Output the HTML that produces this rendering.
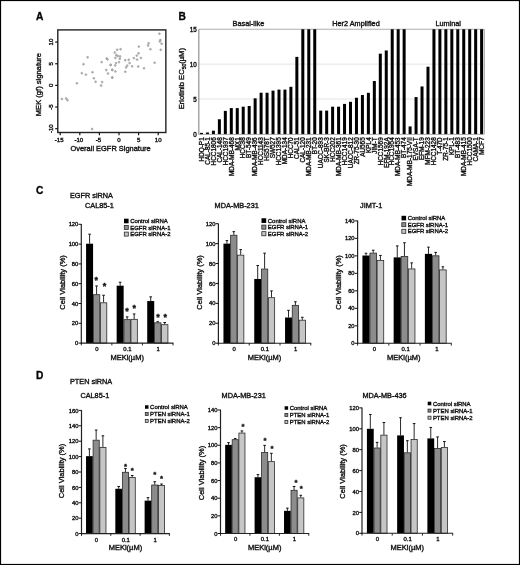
<!DOCTYPE html>
<html lang="en">
<head>
<meta charset="utf-8">
<title>Figure</title>
<style>
html,body{margin:0;padding:0;background:#fff;}
body{width:520px;height:565px;overflow:hidden;font-family:'Liberation Sans', Arial, sans-serif;}
svg{display:block;}
svg text{font-family:"Liberation Sans",Arial,sans-serif;stroke:#111;stroke-width:0.36px;}
</style>
</head>
<body>
<svg width="520" height="565" viewBox="0 0 520 565">
<rect x="0.5" y="0.5" width="519" height="564" fill="#fff" stroke="#000" stroke-width="1.2"/>
<text x="36.00" y="20.00" font-size="10.2" text-anchor="start" font-weight="bold" fill="#000">A</text>
<rect x="57.8" y="29.9" width="108.05" height="102.60" fill="none" stroke="#222" stroke-width="1.4"/>
<line x1="55.20" y1="42.10" x2="57.80" y2="42.10" stroke="#111" stroke-width="1.2"/>
<text x="52.80" y="42.10" font-size="6.1" text-anchor="middle" fill="#111" transform="rotate(-90 52.80 42.10)">10</text>
<line x1="55.20" y1="63.75" x2="57.80" y2="63.75" stroke="#111" stroke-width="1.2"/>
<text x="52.80" y="63.75" font-size="6.1" text-anchor="middle" fill="#111" transform="rotate(-90 52.80 63.75)">5</text>
<line x1="55.20" y1="85.40" x2="57.80" y2="85.40" stroke="#111" stroke-width="1.2"/>
<text x="52.80" y="85.40" font-size="6.1" text-anchor="middle" fill="#111" transform="rotate(-90 52.80 85.40)">0</text>
<line x1="55.20" y1="107.05" x2="57.80" y2="107.05" stroke="#111" stroke-width="1.2"/>
<text x="52.80" y="107.05" font-size="6.1" text-anchor="middle" fill="#111" transform="rotate(-90 52.80 107.05)">-5</text>
<line x1="55.20" y1="128.70" x2="57.80" y2="128.70" stroke="#111" stroke-width="1.2"/>
<text x="52.80" y="128.70" font-size="6.1" text-anchor="middle" fill="#111" transform="rotate(-90 52.80 128.70)">-10</text>
<line x1="60.20" y1="132.50" x2="60.20" y2="135.30" stroke="#111" stroke-width="1.2"/>
<text x="59.20" y="142.20" font-size="6.1" text-anchor="middle" fill="#111">-15</text>
<line x1="79.80" y1="132.50" x2="79.80" y2="135.30" stroke="#111" stroke-width="1.2"/>
<text x="78.80" y="142.20" font-size="6.1" text-anchor="middle" fill="#111">-10</text>
<line x1="99.40" y1="132.50" x2="99.40" y2="135.30" stroke="#111" stroke-width="1.2"/>
<text x="98.40" y="142.20" font-size="6.1" text-anchor="middle" fill="#111">-5</text>
<line x1="119.00" y1="132.50" x2="119.00" y2="135.30" stroke="#111" stroke-width="1.2"/>
<text x="119.00" y="142.20" font-size="6.1" text-anchor="middle" fill="#111">0</text>
<line x1="138.60" y1="132.50" x2="138.60" y2="135.30" stroke="#111" stroke-width="1.2"/>
<text x="138.60" y="142.20" font-size="6.1" text-anchor="middle" fill="#111">5</text>
<line x1="158.20" y1="132.50" x2="158.20" y2="135.30" stroke="#111" stroke-width="1.2"/>
<text x="158.20" y="142.20" font-size="6.1" text-anchor="middle" fill="#111">10</text>
<text x="110.60" y="150.70" font-size="7.45" text-anchor="middle" fill="#111">Overall EGFR Signature</text>
<text x="41.00" y="84.60" font-size="7.58" text-anchor="middle" fill="#111" transform="rotate(-90 41.00 84.60)">MEK (gf) signature</text>
<circle cx="87.6" cy="57.3" r="0.95" fill="#b4b4b4" stroke="#979797" stroke-width="0.55"/>
<circle cx="83.5" cy="64.2" r="0.95" fill="#b4b4b4" stroke="#979797" stroke-width="0.55"/>
<circle cx="81.8" cy="73.2" r="0.95" fill="#b4b4b4" stroke="#979797" stroke-width="0.55"/>
<circle cx="85.9" cy="74.6" r="0.95" fill="#b4b4b4" stroke="#979797" stroke-width="0.55"/>
<circle cx="92.5" cy="72.3" r="0.95" fill="#b4b4b4" stroke="#979797" stroke-width="0.55"/>
<circle cx="93.9" cy="78.3" r="0.95" fill="#b4b4b4" stroke="#979797" stroke-width="0.55"/>
<circle cx="95.6" cy="81.8" r="0.95" fill="#b4b4b4" stroke="#979797" stroke-width="0.55"/>
<circle cx="76.9" cy="83.3" r="0.95" fill="#b4b4b4" stroke="#979797" stroke-width="0.55"/>
<circle cx="102.1" cy="82.1" r="0.95" fill="#b4b4b4" stroke="#979797" stroke-width="0.55"/>
<circle cx="101.7" cy="62.1" r="0.95" fill="#b4b4b4" stroke="#979797" stroke-width="0.55"/>
<circle cx="106.7" cy="58.5" r="0.95" fill="#b4b4b4" stroke="#979797" stroke-width="0.55"/>
<circle cx="107.5" cy="59.4" r="0.95" fill="#b4b4b4" stroke="#979797" stroke-width="0.55"/>
<circle cx="110.7" cy="65" r="0.95" fill="#b4b4b4" stroke="#979797" stroke-width="0.55"/>
<circle cx="106.3" cy="70" r="0.95" fill="#b4b4b4" stroke="#979797" stroke-width="0.55"/>
<circle cx="108" cy="73.5" r="0.95" fill="#b4b4b4" stroke="#979797" stroke-width="0.55"/>
<circle cx="112.3" cy="69.8" r="0.95" fill="#b4b4b4" stroke="#979797" stroke-width="0.55"/>
<circle cx="112.3" cy="77.5" r="0.95" fill="#b4b4b4" stroke="#979797" stroke-width="0.55"/>
<circle cx="159.4" cy="33.7" r="0.95" fill="#b4b4b4" stroke="#979797" stroke-width="0.55"/>
<circle cx="160.4" cy="40" r="0.95" fill="#b4b4b4" stroke="#979797" stroke-width="0.55"/>
<circle cx="159.8" cy="41.4" r="0.95" fill="#b4b4b4" stroke="#979797" stroke-width="0.55"/>
<circle cx="161.6" cy="43.7" r="0.95" fill="#b4b4b4" stroke="#979797" stroke-width="0.55"/>
<circle cx="160.7" cy="49.8" r="0.95" fill="#b4b4b4" stroke="#979797" stroke-width="0.55"/>
<circle cx="148.6" cy="43.2" r="0.95" fill="#b4b4b4" stroke="#979797" stroke-width="0.55"/>
<circle cx="148.1" cy="45.5" r="0.95" fill="#b4b4b4" stroke="#979797" stroke-width="0.55"/>
<circle cx="150.4" cy="49.2" r="0.95" fill="#b4b4b4" stroke="#979797" stroke-width="0.55"/>
<circle cx="138.8" cy="46.6" r="0.95" fill="#b4b4b4" stroke="#979797" stroke-width="0.55"/>
<circle cx="138.6" cy="53.3" r="0.95" fill="#b4b4b4" stroke="#979797" stroke-width="0.55"/>
<circle cx="136.8" cy="55.6" r="0.95" fill="#b4b4b4" stroke="#979797" stroke-width="0.55"/>
<circle cx="133.9" cy="58.1" r="0.95" fill="#b4b4b4" stroke="#979797" stroke-width="0.55"/>
<circle cx="137.1" cy="59.6" r="0.95" fill="#b4b4b4" stroke="#979797" stroke-width="0.55"/>
<circle cx="140.9" cy="57.9" r="0.95" fill="#b4b4b4" stroke="#979797" stroke-width="0.55"/>
<circle cx="154.6" cy="62.7" r="0.95" fill="#b4b4b4" stroke="#979797" stroke-width="0.55"/>
<circle cx="138.3" cy="66.5" r="0.95" fill="#b4b4b4" stroke="#979797" stroke-width="0.55"/>
<circle cx="144" cy="68.3" r="0.95" fill="#b4b4b4" stroke="#979797" stroke-width="0.55"/>
<circle cx="132.1" cy="66.3" r="0.95" fill="#b4b4b4" stroke="#979797" stroke-width="0.55"/>
<circle cx="129.6" cy="63.1" r="0.95" fill="#b4b4b4" stroke="#979797" stroke-width="0.55"/>
<circle cx="128.7" cy="59.8" r="0.95" fill="#b4b4b4" stroke="#979797" stroke-width="0.55"/>
<circle cx="125.2" cy="60.2" r="0.95" fill="#b4b4b4" stroke="#979797" stroke-width="0.55"/>
<circle cx="127.3" cy="65.6" r="0.95" fill="#b4b4b4" stroke="#979797" stroke-width="0.55"/>
<circle cx="126.1" cy="67.4" r="0.95" fill="#b4b4b4" stroke="#979797" stroke-width="0.55"/>
<circle cx="125.3" cy="71.7" r="0.95" fill="#b4b4b4" stroke="#979797" stroke-width="0.55"/>
<circle cx="120.6" cy="49.2" r="0.95" fill="#b4b4b4" stroke="#979797" stroke-width="0.55"/>
<circle cx="117.2" cy="49.8" r="0.95" fill="#b4b4b4" stroke="#979797" stroke-width="0.55"/>
<circle cx="114.8" cy="52.5" r="0.95" fill="#b4b4b4" stroke="#979797" stroke-width="0.55"/>
<circle cx="116.3" cy="55.2" r="0.95" fill="#b4b4b4" stroke="#979797" stroke-width="0.55"/>
<circle cx="117.8" cy="55.9" r="0.95" fill="#b4b4b4" stroke="#979797" stroke-width="0.55"/>
<circle cx="120.1" cy="56.4" r="0.95" fill="#b4b4b4" stroke="#979797" stroke-width="0.55"/>
<circle cx="115.4" cy="57.9" r="0.95" fill="#b4b4b4" stroke="#979797" stroke-width="0.55"/>
<circle cx="119.8" cy="58.7" r="0.95" fill="#b4b4b4" stroke="#979797" stroke-width="0.55"/>
<circle cx="119" cy="62.1" r="0.95" fill="#b4b4b4" stroke="#979797" stroke-width="0.55"/>
<circle cx="116" cy="63.1" r="0.95" fill="#b4b4b4" stroke="#979797" stroke-width="0.55"/>
<circle cx="115.2" cy="65.4" r="0.95" fill="#b4b4b4" stroke="#979797" stroke-width="0.55"/>
<circle cx="110.6" cy="64.8" r="0.95" fill="#b4b4b4" stroke="#979797" stroke-width="0.55"/>
<circle cx="112.3" cy="70" r="0.95" fill="#b4b4b4" stroke="#979797" stroke-width="0.55"/>
<circle cx="115.4" cy="71.4" r="0.95" fill="#b4b4b4" stroke="#979797" stroke-width="0.55"/>
<circle cx="112.3" cy="77.5" r="0.95" fill="#b4b4b4" stroke="#979797" stroke-width="0.55"/>
<circle cx="61.9" cy="99" r="0.95" fill="#b4b4b4" stroke="#979797" stroke-width="0.55"/>
<circle cx="66.2" cy="98.5" r="0.95" fill="#b4b4b4" stroke="#979797" stroke-width="0.55"/>
<circle cx="67.5" cy="100.2" r="0.95" fill="#b4b4b4" stroke="#979797" stroke-width="0.55"/>
<circle cx="92.1" cy="129" r="0.95" fill="#b4b4b4" stroke="#979797" stroke-width="0.55"/>
<circle cx="101.1" cy="85.5" r="0.95" fill="#b4b4b4" stroke="#979797" stroke-width="0.55"/>
<text x="178.60" y="20.00" font-size="10.2" text-anchor="start" font-weight="bold" fill="#000">B</text>
<line x1="199.00" y1="29.25" x2="484.30" y2="29.25" stroke="#9a9a9a" stroke-width="0.8"/>
<line x1="199.00" y1="64.13" x2="484.30" y2="64.13" stroke="#d2d2d2" stroke-width="0.6"/>
<line x1="199.00" y1="99.02" x2="484.30" y2="99.02" stroke="#d2d2d2" stroke-width="0.6"/>
<line x1="484.30" y1="29.25" x2="484.30" y2="133.90" stroke="#8a8a8a" stroke-width="0.8"/>
<line x1="198.85" y1="29.25" x2="198.85" y2="134.60" stroke="#7a7a7a" stroke-width="1.0"/>
<text x="196.80" y="136.50" font-size="6.3" text-anchor="end" fill="#111">0</text>
<text x="196.80" y="101.62" font-size="6.3" text-anchor="end" fill="#111">5</text>
<text x="196.80" y="66.73" font-size="6.3" text-anchor="end" fill="#111">10</text>
<text x="196.80" y="31.85" font-size="6.3" text-anchor="end" fill="#111">15</text>
<rect x="200.00" y="132.85" width="3.00" height="1.35" fill="#000"/>
<text x="203.75" y="137.30" font-size="6.4" text-anchor="end" fill="#111" transform="rotate(-90 203.75 137.30)">HDQ-P1</text>
<rect x="205.96" y="132.50" width="3.00" height="1.70" fill="#000"/>
<text x="209.71" y="137.30" font-size="6.4" text-anchor="end" fill="#111" transform="rotate(-90 209.71 137.30)">CAL-85-1</text>
<rect x="211.92" y="130.69" width="3.00" height="3.51" fill="#000"/>
<text x="215.67" y="137.30" font-size="6.4" text-anchor="end" fill="#111" transform="rotate(-90 215.67 137.30)">HCC1806</text>
<rect x="217.88" y="119.25" width="3.00" height="14.95" fill="#000"/>
<text x="221.63" y="137.30" font-size="6.4" text-anchor="end" fill="#111" transform="rotate(-90 221.63 137.30)">CAL-148</text>
<rect x="223.84" y="110.88" width="3.00" height="23.32" fill="#000"/>
<text x="227.59" y="137.30" font-size="6.4" text-anchor="end" fill="#111" transform="rotate(-90 227.59 137.30)">HCC1937</text>
<rect x="229.80" y="108.09" width="3.00" height="26.11" fill="#000"/>
<text x="233.55" y="137.30" font-size="6.4" text-anchor="end" fill="#111" transform="rotate(-90 233.55 137.30)">MDA-MB-468</text>
<rect x="235.76" y="108.09" width="3.00" height="26.11" fill="#000"/>
<text x="239.51" y="137.30" font-size="6.4" text-anchor="end" fill="#111" transform="rotate(-90 239.51 137.30)">MX1</text>
<rect x="241.72" y="106.69" width="3.00" height="27.51" fill="#000"/>
<text x="245.47" y="137.30" font-size="6.4" text-anchor="end" fill="#111" transform="rotate(-90 245.47 137.30)">HCC38</text>
<rect x="247.68" y="105.99" width="3.00" height="28.21" fill="#000"/>
<text x="251.43" y="137.30" font-size="6.4" text-anchor="end" fill="#111" transform="rotate(-90 251.43 137.30)">BT-549</text>
<rect x="253.64" y="98.32" width="3.00" height="35.88" fill="#000"/>
<text x="257.39" y="137.30" font-size="6.4" text-anchor="end" fill="#111" transform="rotate(-90 257.39 137.30)">MDA-MB-436</text>
<rect x="259.60" y="92.74" width="3.00" height="41.46" fill="#000"/>
<text x="263.35" y="137.30" font-size="6.4" text-anchor="end" fill="#111" transform="rotate(-90 263.35 137.30)">HCC1143</text>
<rect x="265.56" y="92.74" width="3.00" height="41.46" fill="#000"/>
<text x="269.31" y="137.30" font-size="6.4" text-anchor="end" fill="#111" transform="rotate(-90 269.31 137.30)">HS578T</text>
<rect x="271.52" y="90.64" width="3.00" height="43.56" fill="#000"/>
<text x="275.27" y="137.30" font-size="6.4" text-anchor="end" fill="#111" transform="rotate(-90 275.27 137.30)">SW527</text>
<rect x="277.48" y="89.60" width="3.00" height="44.60" fill="#000"/>
<text x="281.23" y="137.30" font-size="6.4" text-anchor="end" fill="#111" transform="rotate(-90 281.23 137.30)">HCC1395</text>
<rect x="283.44" y="89.60" width="3.00" height="44.60" fill="#000"/>
<text x="287.19" y="137.30" font-size="6.4" text-anchor="end" fill="#111" transform="rotate(-90 287.19 137.30)">MDA-134</text>
<rect x="289.40" y="86.81" width="3.00" height="47.39" fill="#000"/>
<text x="293.15" y="137.30" font-size="6.4" text-anchor="end" fill="#111" transform="rotate(-90 293.15 137.30)">HCC70</text>
<rect x="295.36" y="56.88" width="3.00" height="77.32" fill="#000"/>
<text x="299.11" y="137.30" font-size="6.4" text-anchor="end" fill="#111" transform="rotate(-90 299.11 137.30)">CAL-51</text>
<rect x="301.32" y="29.25" width="3.00" height="104.95" fill="#000"/>
<text x="305.07" y="137.30" font-size="6.4" text-anchor="end" fill="#111" transform="rotate(-90 305.07 137.30)">CAL-120</text>
<rect x="307.28" y="29.25" width="3.00" height="104.95" fill="#000"/>
<text x="311.03" y="137.30" font-size="6.4" text-anchor="end" fill="#111" transform="rotate(-90 311.03 137.30)">MDA-MB-231</text>
<rect x="313.24" y="29.25" width="3.00" height="104.95" fill="#000"/>
<text x="316.99" y="137.30" font-size="6.4" text-anchor="end" fill="#111" transform="rotate(-90 316.99 137.30)">BT-20</text>
<rect x="319.20" y="110.60" width="3.00" height="23.60" fill="#000"/>
<text x="322.95" y="137.30" font-size="6.4" text-anchor="end" fill="#111" transform="rotate(-90 322.95 137.30)">UACC-893</text>
<rect x="325.16" y="110.60" width="3.00" height="23.60" fill="#000"/>
<text x="328.91" y="137.30" font-size="6.4" text-anchor="end" fill="#111" transform="rotate(-90 328.91 137.30)">SK-BR-3</text>
<rect x="331.12" y="106.69" width="3.00" height="27.51" fill="#000"/>
<text x="334.87" y="137.30" font-size="6.4" text-anchor="end" fill="#111" transform="rotate(-90 334.87 137.30)">HCC202</text>
<rect x="337.08" y="106.69" width="3.00" height="27.51" fill="#000"/>
<text x="340.83" y="137.30" font-size="6.4" text-anchor="end" fill="#111" transform="rotate(-90 340.83 137.30)">MDA-MB-361</text>
<rect x="343.04" y="103.90" width="3.00" height="30.30" fill="#000"/>
<text x="346.79" y="137.30" font-size="6.4" text-anchor="end" fill="#111" transform="rotate(-90 346.79 137.30)">HCC1419</text>
<rect x="349.00" y="101.81" width="3.00" height="32.39" fill="#000"/>
<text x="352.75" y="137.30" font-size="6.4" text-anchor="end" fill="#111" transform="rotate(-90 352.75 137.30)">UACC-812</text>
<rect x="354.96" y="97.76" width="3.00" height="36.44" fill="#000"/>
<text x="358.71" y="137.30" font-size="6.4" text-anchor="end" fill="#111" transform="rotate(-90 358.71 137.30)">ZR-75-30</text>
<rect x="360.92" y="94.97" width="3.00" height="39.23" fill="#000"/>
<text x="364.67" y="137.30" font-size="6.4" text-anchor="end" fill="#111" transform="rotate(-90 364.67 137.30)">AU565</text>
<rect x="366.88" y="92.81" width="3.00" height="41.39" fill="#000"/>
<text x="370.63" y="137.30" font-size="6.4" text-anchor="end" fill="#111" transform="rotate(-90 370.63 137.30)">KPL4</text>
<rect x="372.84" y="81.02" width="3.00" height="53.18" fill="#000"/>
<text x="376.59" y="137.30" font-size="6.4" text-anchor="end" fill="#111" transform="rotate(-90 376.59 137.30)">JIM-T</text>
<rect x="378.80" y="53.67" width="3.00" height="80.53" fill="#000"/>
<text x="382.55" y="137.30" font-size="6.4" text-anchor="end" fill="#111" transform="rotate(-90 382.55 137.30)">HCC1569</text>
<rect x="384.76" y="50.46" width="3.00" height="83.74" fill="#000"/>
<text x="388.51" y="137.30" font-size="6.4" text-anchor="end" fill="#111" transform="rotate(-90 388.51 137.30)">EFM-192A</text>
<rect x="390.72" y="29.25" width="3.00" height="104.95" fill="#000"/>
<text x="394.47" y="137.30" font-size="6.4" text-anchor="end" fill="#111" transform="rotate(-90 394.47 137.30)">HCC1954</text>
<rect x="396.68" y="29.25" width="3.00" height="104.95" fill="#000"/>
<text x="400.43" y="137.30" font-size="6.4" text-anchor="end" fill="#111" transform="rotate(-90 400.43 137.30)">MDA-MB-453</text>
<rect x="402.64" y="29.25" width="3.00" height="104.95" fill="#000"/>
<text x="406.39" y="137.30" font-size="6.4" text-anchor="end" fill="#111" transform="rotate(-90 406.39 137.30)">BT-474</text>
<rect x="408.60" y="126.43" width="3.00" height="7.77" fill="#000"/>
<text x="412.35" y="137.30" font-size="6.4" text-anchor="end" fill="#111" transform="rotate(-90 412.35 137.30)">MDA-MB-175-VII</text>
<rect x="414.56" y="97.06" width="3.00" height="37.14" fill="#000"/>
<text x="418.31" y="137.30" font-size="6.4" text-anchor="end" fill="#111" transform="rotate(-90 418.31 137.30)">EVSA-T</text>
<rect x="420.52" y="86.46" width="3.00" height="47.74" fill="#000"/>
<text x="424.27" y="137.30" font-size="6.4" text-anchor="end" fill="#111" transform="rotate(-90 424.27 137.30)">EFM-19</text>
<rect x="426.48" y="66.71" width="3.00" height="67.49" fill="#000"/>
<text x="430.23" y="137.30" font-size="6.4" text-anchor="end" fill="#111" transform="rotate(-90 430.23 137.30)">MFM-223</text>
<rect x="432.44" y="29.25" width="3.00" height="104.95" fill="#000"/>
<text x="436.19" y="137.30" font-size="6.4" text-anchor="end" fill="#111" transform="rotate(-90 436.19 137.30)">HCC1428</text>
<rect x="438.40" y="29.25" width="3.00" height="104.95" fill="#000"/>
<text x="442.15" y="137.30" font-size="6.4" text-anchor="end" fill="#111" transform="rotate(-90 442.15 137.30)">T-47D</text>
<rect x="444.36" y="29.25" width="3.00" height="104.95" fill="#000"/>
<text x="448.11" y="137.30" font-size="6.4" text-anchor="end" fill="#111" transform="rotate(-90 448.11 137.30)">ZR-75-1</text>
<rect x="450.32" y="29.25" width="3.00" height="104.95" fill="#000"/>
<text x="454.07" y="137.30" font-size="6.4" text-anchor="end" fill="#111" transform="rotate(-90 454.07 137.30)">KPL-1</text>
<rect x="456.28" y="29.25" width="3.00" height="104.95" fill="#000"/>
<text x="460.03" y="137.30" font-size="6.4" text-anchor="end" fill="#111" transform="rotate(-90 460.03 137.30)">BT-483</text>
<rect x="462.24" y="29.25" width="3.00" height="104.95" fill="#000"/>
<text x="465.99" y="137.30" font-size="6.4" text-anchor="end" fill="#111" transform="rotate(-90 465.99 137.30)">MDA-MB-415</text>
<rect x="468.20" y="29.25" width="3.00" height="104.95" fill="#000"/>
<text x="471.95" y="137.30" font-size="6.4" text-anchor="end" fill="#111" transform="rotate(-90 471.95 137.30)">HCC1500</text>
<rect x="474.16" y="29.25" width="3.00" height="104.95" fill="#000"/>
<text x="477.91" y="137.30" font-size="6.4" text-anchor="end" fill="#111" transform="rotate(-90 477.91 137.30)">CAMA-1</text>
<rect x="480.12" y="29.25" width="3.00" height="104.95" fill="#000"/>
<text x="483.87" y="137.30" font-size="6.4" text-anchor="end" fill="#111" transform="rotate(-90 483.87 137.30)">MCF7</text>
<line x1="199.00" y1="134.40" x2="484.30" y2="134.40" stroke="#8a8a8a" stroke-width="0.7"/>
<text x="248.40" y="26.00" font-size="7.3" text-anchor="middle" fill="#111">Basal-like</text>
<text x="356.00" y="26.00" font-size="7.3" text-anchor="middle" fill="#111">Her2 Amplified</text>
<text x="448.20" y="26.00" font-size="7.3" text-anchor="middle" fill="#111">Luminal</text>
<text x="184.30" y="78.70" font-size="7.58" text-anchor="middle" fill="#111" transform="rotate(-90 184.30 78.70)">Erlotinib EC<tspan font-size="5.0" dy="1.6">50</tspan><tspan dy="-1.6">(µM)</tspan></text>
<text x="36.00" y="193.50" font-size="10.2" text-anchor="start" font-weight="bold" fill="#000">C</text>
<text x="70.00" y="197.50" font-size="7.3" text-anchor="start" fill="#111">EGFR siRNA</text>
<text x="36.00" y="379.00" font-size="10.2" text-anchor="start" font-weight="bold" fill="#000">D</text>
<text x="70.00" y="384.40" font-size="7.3" text-anchor="start" fill="#111">PTEN siRNA</text>
<line x1="89.58" y1="243.70" x2="89.58" y2="234.20" stroke="#111" stroke-width="0.9"/>
<line x1="88.28" y1="234.20" x2="90.88" y2="234.20" stroke="#111" stroke-width="1.0"/>
<rect x="86.08" y="243.70" width="7.00" height="99.40" fill="#000"/>
<line x1="96.58" y1="294.39" x2="96.58" y2="285.98" stroke="#111" stroke-width="0.9"/>
<line x1="95.28" y1="285.98" x2="97.88" y2="285.98" stroke="#111" stroke-width="1.0"/>
<rect x="93.38" y="294.69" width="6.40" height="48.41" fill="#8c8c8c" stroke="#2a2a2a" stroke-width="0.8"/>
<line x1="103.58" y1="302.51" x2="103.58" y2="295.28" stroke="#111" stroke-width="0.9"/>
<line x1="102.28" y1="295.28" x2="104.88" y2="295.28" stroke="#111" stroke-width="1.0"/>
<rect x="100.38" y="302.81" width="6.40" height="40.29" fill="#c6c6c6" stroke="#2a2a2a" stroke-width="0.8"/>
<line x1="120.15" y1="285.68" x2="120.15" y2="282.22" stroke="#111" stroke-width="0.9"/>
<line x1="118.85" y1="282.22" x2="121.45" y2="282.22" stroke="#111" stroke-width="1.0"/>
<rect x="116.65" y="285.68" width="7.00" height="57.42" fill="#000"/>
<line x1="127.15" y1="319.34" x2="127.15" y2="316.87" stroke="#111" stroke-width="0.9"/>
<line x1="125.85" y1="316.87" x2="128.45" y2="316.87" stroke="#111" stroke-width="1.0"/>
<rect x="123.95" y="319.64" width="6.40" height="23.46" fill="#8c8c8c" stroke="#2a2a2a" stroke-width="0.8"/>
<line x1="134.15" y1="319.04" x2="134.15" y2="313.99" stroke="#111" stroke-width="0.9"/>
<line x1="132.85" y1="313.99" x2="135.45" y2="313.99" stroke="#111" stroke-width="1.0"/>
<rect x="130.95" y="319.34" width="6.40" height="23.76" fill="#c6c6c6" stroke="#2a2a2a" stroke-width="0.8"/>
<line x1="150.72" y1="301.03" x2="150.72" y2="296.87" stroke="#111" stroke-width="0.9"/>
<line x1="149.42" y1="296.87" x2="152.02" y2="296.87" stroke="#111" stroke-width="1.0"/>
<rect x="147.22" y="301.03" width="7.00" height="42.07" fill="#000"/>
<line x1="157.72" y1="322.51" x2="157.72" y2="321.72" stroke="#111" stroke-width="0.9"/>
<line x1="156.42" y1="321.72" x2="159.02" y2="321.72" stroke="#111" stroke-width="1.0"/>
<rect x="154.52" y="322.81" width="6.40" height="20.29" fill="#8c8c8c" stroke="#2a2a2a" stroke-width="0.8"/>
<line x1="164.72" y1="324.39" x2="164.72" y2="322.51" stroke="#111" stroke-width="0.9"/>
<line x1="163.42" y1="322.51" x2="166.02" y2="322.51" stroke="#111" stroke-width="1.0"/>
<rect x="161.52" y="324.69" width="6.40" height="18.41" fill="#c6c6c6" stroke="#2a2a2a" stroke-width="0.8"/>
<line x1="81.30" y1="224.00" x2="81.30" y2="343.60" stroke="#222" stroke-width="1.2"/>
<line x1="80.80" y1="343.10" x2="173.40" y2="343.10" stroke="#222" stroke-width="1.1"/>
<line x1="78.50" y1="343.10" x2="81.30" y2="343.10" stroke="#111" stroke-width="1.0"/>
<text x="78.30" y="345.20" font-size="5.8" text-anchor="end" fill="#111">0</text>
<line x1="78.50" y1="323.30" x2="81.30" y2="323.30" stroke="#111" stroke-width="1.0"/>
<text x="78.30" y="325.40" font-size="5.8" text-anchor="end" fill="#111">20</text>
<line x1="78.50" y1="303.50" x2="81.30" y2="303.50" stroke="#111" stroke-width="1.0"/>
<text x="78.30" y="305.60" font-size="5.8" text-anchor="end" fill="#111">40</text>
<line x1="78.50" y1="283.70" x2="81.30" y2="283.70" stroke="#111" stroke-width="1.0"/>
<text x="78.30" y="285.80" font-size="5.8" text-anchor="end" fill="#111">60</text>
<line x1="78.50" y1="263.90" x2="81.30" y2="263.90" stroke="#111" stroke-width="1.0"/>
<text x="78.30" y="266.00" font-size="5.8" text-anchor="end" fill="#111">80</text>
<line x1="78.50" y1="244.10" x2="81.30" y2="244.10" stroke="#111" stroke-width="1.0"/>
<text x="78.30" y="246.20" font-size="5.8" text-anchor="end" fill="#111">100</text>
<line x1="78.50" y1="224.30" x2="81.30" y2="224.30" stroke="#111" stroke-width="1.0"/>
<text x="78.30" y="226.40" font-size="5.8" text-anchor="end" fill="#111">120</text>
<line x1="81.30" y1="343.10" x2="81.30" y2="345.40" stroke="#111" stroke-width="0.9"/>
<line x1="111.87" y1="343.10" x2="111.87" y2="345.40" stroke="#111" stroke-width="0.9"/>
<line x1="142.43" y1="343.10" x2="142.43" y2="345.40" stroke="#111" stroke-width="0.9"/>
<line x1="173.00" y1="343.10" x2="173.00" y2="345.40" stroke="#111" stroke-width="0.9"/>
<text x="96.88" y="351.00" font-size="5.9" text-anchor="middle" fill="#111">0</text>
<text x="127.45" y="351.00" font-size="5.9" text-anchor="middle" fill="#111">0.1</text>
<text x="158.02" y="351.00" font-size="5.9" text-anchor="middle" fill="#111">1</text>
<text x="127.15" y="359.80" font-size="7.5" text-anchor="middle" fill="#111">MEKi(µM)</text>
<text x="65.50" y="282.40" font-size="7.5" text-anchor="middle" fill="#111" transform="rotate(-90 65.50 282.40)">Cell Viability (%)</text>
<text x="85.00" y="207.60" font-size="7.3" text-anchor="start" fill="#111">CAL85-1</text>
<rect x="124.00" y="218.70" width="4.60" height="4.60" fill="#000"/>
<text x="130.20" y="223.10" font-size="5.95" text-anchor="start" fill="#111">Control siRNA</text>
<rect x="124.30" y="225.55" width="4.00" height="4.00" fill="#8c8c8c" stroke="#2a2a2a" stroke-width="0.8"/>
<text x="130.20" y="229.65" font-size="5.95" text-anchor="start" fill="#111">EGFR siRNA-1</text>
<rect x="124.30" y="232.10" width="4.00" height="4.00" fill="#c6c6c6" stroke="#2a2a2a" stroke-width="0.8"/>
<text x="130.20" y="236.20" font-size="5.95" text-anchor="start" fill="#111">EGFR siRNA-2</text>
<text x="96.30" y="283.41" font-size="9.0" text-anchor="middle" font-weight="bold" fill="#111">*</text>
<text x="104.40" y="289.41" font-size="9.0" text-anchor="middle" font-weight="bold" fill="#111">*</text>
<text x="126.90" y="314.01" font-size="9.0" text-anchor="middle" font-weight="bold" fill="#111">*</text>
<text x="134.20" y="310.91" font-size="9.0" text-anchor="middle" font-weight="bold" fill="#111">*</text>
<text x="158.10" y="320.31" font-size="9.0" text-anchor="middle" font-weight="bold" fill="#111">*</text>
<text x="165.20" y="320.31" font-size="9.0" text-anchor="middle" font-weight="bold" fill="#111">*</text>
<line x1="226.90" y1="243.62" x2="226.90" y2="240.63" stroke="#111" stroke-width="0.9"/>
<line x1="225.60" y1="240.63" x2="228.20" y2="240.63" stroke="#111" stroke-width="1.0"/>
<rect x="223.45" y="243.62" width="6.90" height="99.58" fill="#000"/>
<line x1="233.80" y1="234.95" x2="233.80" y2="231.67" stroke="#111" stroke-width="0.9"/>
<line x1="232.50" y1="231.67" x2="235.10" y2="231.67" stroke="#111" stroke-width="1.0"/>
<rect x="230.65" y="235.25" width="6.30" height="107.95" fill="#8c8c8c" stroke="#2a2a2a" stroke-width="0.8"/>
<line x1="240.70" y1="254.87" x2="240.70" y2="249.59" stroke="#111" stroke-width="0.9"/>
<line x1="239.40" y1="249.59" x2="242.00" y2="249.59" stroke="#111" stroke-width="1.0"/>
<rect x="237.55" y="255.17" width="6.30" height="88.03" fill="#c6c6c6" stroke="#2a2a2a" stroke-width="0.8"/>
<line x1="257.70" y1="278.97" x2="257.70" y2="265.52" stroke="#111" stroke-width="0.9"/>
<line x1="256.40" y1="265.52" x2="259.00" y2="265.52" stroke="#111" stroke-width="1.0"/>
<rect x="254.25" y="278.97" width="6.90" height="64.23" fill="#000"/>
<line x1="264.60" y1="268.76" x2="264.60" y2="253.18" stroke="#111" stroke-width="0.9"/>
<line x1="263.30" y1="253.18" x2="265.90" y2="253.18" stroke="#111" stroke-width="1.0"/>
<rect x="261.45" y="269.06" width="6.30" height="74.14" fill="#8c8c8c" stroke="#2a2a2a" stroke-width="0.8"/>
<line x1="271.50" y1="297.39" x2="271.50" y2="290.92" stroke="#111" stroke-width="0.9"/>
<line x1="270.20" y1="290.92" x2="272.80" y2="290.92" stroke="#111" stroke-width="1.0"/>
<rect x="268.35" y="297.69" width="6.30" height="45.51" fill="#c6c6c6" stroke="#2a2a2a" stroke-width="0.8"/>
<line x1="288.50" y1="317.51" x2="288.50" y2="310.34" stroke="#111" stroke-width="0.9"/>
<line x1="287.20" y1="310.34" x2="289.80" y2="310.34" stroke="#111" stroke-width="1.0"/>
<rect x="285.05" y="317.51" width="6.90" height="25.69" fill="#000"/>
<line x1="295.40" y1="305.06" x2="295.40" y2="301.77" stroke="#111" stroke-width="0.9"/>
<line x1="294.10" y1="301.77" x2="296.70" y2="301.77" stroke="#111" stroke-width="1.0"/>
<rect x="292.25" y="305.36" width="6.30" height="37.84" fill="#8c8c8c" stroke="#2a2a2a" stroke-width="0.8"/>
<line x1="302.30" y1="319.90" x2="302.30" y2="317.31" stroke="#111" stroke-width="0.9"/>
<line x1="301.00" y1="317.31" x2="303.60" y2="317.31" stroke="#111" stroke-width="1.0"/>
<rect x="299.15" y="320.20" width="6.30" height="23.00" fill="#c6c6c6" stroke="#2a2a2a" stroke-width="0.8"/>
<line x1="218.40" y1="223.40" x2="218.40" y2="343.70" stroke="#222" stroke-width="1.2"/>
<line x1="217.90" y1="343.20" x2="311.20" y2="343.20" stroke="#222" stroke-width="1.1"/>
<line x1="215.60" y1="343.20" x2="218.40" y2="343.20" stroke="#111" stroke-width="1.0"/>
<text x="215.40" y="345.30" font-size="5.8" text-anchor="end" fill="#111">0</text>
<line x1="215.60" y1="323.28" x2="218.40" y2="323.28" stroke="#111" stroke-width="1.0"/>
<text x="215.40" y="325.38" font-size="5.8" text-anchor="end" fill="#111">20</text>
<line x1="215.60" y1="303.37" x2="218.40" y2="303.37" stroke="#111" stroke-width="1.0"/>
<text x="215.40" y="305.47" font-size="5.8" text-anchor="end" fill="#111">40</text>
<line x1="215.60" y1="283.45" x2="218.40" y2="283.45" stroke="#111" stroke-width="1.0"/>
<text x="215.40" y="285.55" font-size="5.8" text-anchor="end" fill="#111">60</text>
<line x1="215.60" y1="263.53" x2="218.40" y2="263.53" stroke="#111" stroke-width="1.0"/>
<text x="215.40" y="265.63" font-size="5.8" text-anchor="end" fill="#111">80</text>
<line x1="215.60" y1="243.62" x2="218.40" y2="243.62" stroke="#111" stroke-width="1.0"/>
<text x="215.40" y="245.72" font-size="5.8" text-anchor="end" fill="#111">100</text>
<line x1="215.60" y1="223.70" x2="218.40" y2="223.70" stroke="#111" stroke-width="1.0"/>
<text x="215.40" y="225.80" font-size="5.8" text-anchor="end" fill="#111">120</text>
<line x1="218.40" y1="343.20" x2="218.40" y2="345.50" stroke="#111" stroke-width="0.9"/>
<line x1="249.20" y1="343.20" x2="249.20" y2="345.50" stroke="#111" stroke-width="0.9"/>
<line x1="280.00" y1="343.20" x2="280.00" y2="345.50" stroke="#111" stroke-width="0.9"/>
<line x1="310.80" y1="343.20" x2="310.80" y2="345.50" stroke="#111" stroke-width="0.9"/>
<text x="234.10" y="351.10" font-size="5.9" text-anchor="middle" fill="#111">0</text>
<text x="264.90" y="351.10" font-size="5.9" text-anchor="middle" fill="#111">0.1</text>
<text x="295.70" y="351.10" font-size="5.9" text-anchor="middle" fill="#111">1</text>
<text x="264.60" y="359.90" font-size="7.5" text-anchor="middle" fill="#111">MEKi(µM)</text>
<text x="202.40" y="282.40" font-size="7.5" text-anchor="middle" fill="#111" transform="rotate(-90 202.40 282.40)">Cell Viability (%)</text>
<text x="214.60" y="207.75" font-size="7.3" text-anchor="start" fill="#111">MDA-MB-231</text>
<rect x="261.50" y="218.25" width="4.70" height="4.70" fill="#000"/>
<text x="267.80" y="222.70" font-size="5.95" text-anchor="start" fill="#111">Control siRNA</text>
<rect x="261.80" y="225.10" width="4.10" height="4.10" fill="#8c8c8c" stroke="#2a2a2a" stroke-width="0.8"/>
<text x="267.80" y="229.25" font-size="5.95" text-anchor="start" fill="#111">EGFR siRNA-1</text>
<rect x="261.80" y="231.65" width="4.10" height="4.10" fill="#c6c6c6" stroke="#2a2a2a" stroke-width="0.8"/>
<text x="267.80" y="235.80" font-size="5.95" text-anchor="start" fill="#111">EGFR siRNA-2</text>
<line x1="366.02" y1="255.52" x2="366.02" y2="253.25" stroke="#111" stroke-width="0.9"/>
<line x1="364.72" y1="253.25" x2="367.32" y2="253.25" stroke="#111" stroke-width="1.0"/>
<rect x="362.42" y="255.52" width="7.20" height="87.78" fill="#000"/>
<line x1="373.22" y1="252.81" x2="373.22" y2="250.19" stroke="#111" stroke-width="0.9"/>
<line x1="371.92" y1="250.19" x2="374.52" y2="250.19" stroke="#111" stroke-width="1.0"/>
<rect x="369.92" y="253.11" width="6.60" height="90.19" fill="#8c8c8c" stroke="#2a2a2a" stroke-width="0.8"/>
<line x1="380.42" y1="260.24" x2="380.42" y2="255.43" stroke="#111" stroke-width="0.9"/>
<line x1="379.12" y1="255.43" x2="381.72" y2="255.43" stroke="#111" stroke-width="1.0"/>
<rect x="377.12" y="260.54" width="6.60" height="82.76" fill="#c6c6c6" stroke="#2a2a2a" stroke-width="0.8"/>
<line x1="397.25" y1="257.36" x2="397.25" y2="245.90" stroke="#111" stroke-width="0.9"/>
<line x1="395.95" y1="245.90" x2="398.55" y2="245.90" stroke="#111" stroke-width="1.0"/>
<rect x="393.65" y="257.36" width="7.20" height="85.94" fill="#000"/>
<line x1="404.45" y1="256.13" x2="404.45" y2="242.76" stroke="#111" stroke-width="0.9"/>
<line x1="403.15" y1="242.76" x2="405.75" y2="242.76" stroke="#111" stroke-width="1.0"/>
<rect x="401.15" y="256.43" width="6.60" height="86.87" fill="#8c8c8c" stroke="#2a2a2a" stroke-width="0.8"/>
<line x1="411.65" y1="268.64" x2="411.65" y2="262.87" stroke="#111" stroke-width="0.9"/>
<line x1="410.35" y1="262.87" x2="412.95" y2="262.87" stroke="#111" stroke-width="1.0"/>
<rect x="408.35" y="268.94" width="6.60" height="74.36" fill="#c6c6c6" stroke="#2a2a2a" stroke-width="0.8"/>
<line x1="428.48" y1="253.86" x2="428.48" y2="247.13" stroke="#111" stroke-width="0.9"/>
<line x1="427.18" y1="247.13" x2="429.78" y2="247.13" stroke="#111" stroke-width="1.0"/>
<rect x="424.88" y="253.86" width="7.20" height="89.44" fill="#000"/>
<line x1="435.68" y1="255.52" x2="435.68" y2="252.37" stroke="#111" stroke-width="0.9"/>
<line x1="434.38" y1="252.37" x2="436.98" y2="252.37" stroke="#111" stroke-width="1.0"/>
<rect x="432.38" y="255.82" width="6.60" height="87.48" fill="#8c8c8c" stroke="#2a2a2a" stroke-width="0.8"/>
<line x1="442.88" y1="269.60" x2="442.88" y2="266.80" stroke="#111" stroke-width="0.9"/>
<line x1="441.58" y1="266.80" x2="444.18" y2="266.80" stroke="#111" stroke-width="1.0"/>
<rect x="439.58" y="269.90" width="6.60" height="73.40" fill="#c6c6c6" stroke="#2a2a2a" stroke-width="0.8"/>
<line x1="357.60" y1="220.60" x2="357.60" y2="343.80" stroke="#222" stroke-width="1.2"/>
<line x1="357.10" y1="343.30" x2="451.70" y2="343.30" stroke="#222" stroke-width="1.1"/>
<line x1="354.80" y1="343.30" x2="357.60" y2="343.30" stroke="#111" stroke-width="1.0"/>
<text x="354.60" y="345.40" font-size="5.8" text-anchor="end" fill="#111">0</text>
<line x1="354.80" y1="325.81" x2="357.60" y2="325.81" stroke="#111" stroke-width="1.0"/>
<text x="354.60" y="327.91" font-size="5.8" text-anchor="end" fill="#111">20</text>
<line x1="354.80" y1="308.33" x2="357.60" y2="308.33" stroke="#111" stroke-width="1.0"/>
<text x="354.60" y="310.43" font-size="5.8" text-anchor="end" fill="#111">40</text>
<line x1="354.80" y1="290.84" x2="357.60" y2="290.84" stroke="#111" stroke-width="1.0"/>
<text x="354.60" y="292.94" font-size="5.8" text-anchor="end" fill="#111">60</text>
<line x1="354.80" y1="273.36" x2="357.60" y2="273.36" stroke="#111" stroke-width="1.0"/>
<text x="354.60" y="275.46" font-size="5.8" text-anchor="end" fill="#111">80</text>
<line x1="354.80" y1="255.87" x2="357.60" y2="255.87" stroke="#111" stroke-width="1.0"/>
<text x="354.60" y="257.97" font-size="5.8" text-anchor="end" fill="#111">100</text>
<line x1="354.80" y1="238.39" x2="357.60" y2="238.39" stroke="#111" stroke-width="1.0"/>
<text x="354.60" y="240.49" font-size="5.8" text-anchor="end" fill="#111">120</text>
<line x1="354.80" y1="220.90" x2="357.60" y2="220.90" stroke="#111" stroke-width="1.0"/>
<text x="354.60" y="223.00" font-size="5.8" text-anchor="end" fill="#111">140</text>
<line x1="357.60" y1="343.30" x2="357.60" y2="345.60" stroke="#111" stroke-width="0.9"/>
<line x1="388.83" y1="343.30" x2="388.83" y2="345.60" stroke="#111" stroke-width="0.9"/>
<line x1="420.07" y1="343.30" x2="420.07" y2="345.60" stroke="#111" stroke-width="0.9"/>
<line x1="451.30" y1="343.30" x2="451.30" y2="345.60" stroke="#111" stroke-width="0.9"/>
<text x="374.42" y="351.20" font-size="5.9" text-anchor="middle" fill="#111">0</text>
<text x="405.65" y="351.20" font-size="5.9" text-anchor="middle" fill="#111">0.1</text>
<text x="436.88" y="351.20" font-size="5.9" text-anchor="middle" fill="#111">1</text>
<text x="403.75" y="360.00" font-size="7.5" text-anchor="middle" fill="#111">MEKi(µM)</text>
<text x="341.20" y="282.40" font-size="7.5" text-anchor="middle" fill="#111" transform="rotate(-90 341.20 282.40)">Cell Viability (%)</text>
<text x="360.00" y="207.75" font-size="7.3" text-anchor="start" fill="#111">JIMT-1</text>
<rect x="401.50" y="215.80" width="4.60" height="4.60" fill="#000"/>
<text x="407.70" y="220.20" font-size="5.95" text-anchor="start" fill="#111">Control siRNA</text>
<rect x="401.80" y="222.70" width="4.00" height="4.00" fill="#8c8c8c" stroke="#2a2a2a" stroke-width="0.8"/>
<text x="407.70" y="226.80" font-size="5.95" text-anchor="start" fill="#111">EGFR siRNA-1</text>
<rect x="401.80" y="229.30" width="4.00" height="4.00" fill="#c6c6c6" stroke="#2a2a2a" stroke-width="0.8"/>
<text x="407.70" y="233.40" font-size="5.95" text-anchor="start" fill="#111">EGFR siRNA-2</text>
<line x1="89.40" y1="456.14" x2="89.40" y2="448.90" stroke="#111" stroke-width="0.9"/>
<line x1="88.10" y1="448.90" x2="90.70" y2="448.90" stroke="#111" stroke-width="1.0"/>
<rect x="86.03" y="456.14" width="6.75" height="77.46" fill="#000"/>
<line x1="96.15" y1="439.89" x2="96.15" y2="430.03" stroke="#111" stroke-width="0.9"/>
<line x1="94.85" y1="430.03" x2="97.45" y2="430.03" stroke="#111" stroke-width="1.0"/>
<rect x="93.08" y="440.19" width="6.15" height="93.41" fill="#8c8c8c" stroke="#2a2a2a" stroke-width="0.8"/>
<line x1="102.90" y1="447.13" x2="102.90" y2="435.81" stroke="#111" stroke-width="0.9"/>
<line x1="101.60" y1="435.81" x2="104.20" y2="435.81" stroke="#111" stroke-width="1.0"/>
<rect x="99.83" y="447.43" width="6.15" height="86.17" fill="#c6c6c6" stroke="#2a2a2a" stroke-width="0.8"/>
<line x1="118.70" y1="488.79" x2="118.70" y2="486.48" stroke="#111" stroke-width="0.9"/>
<line x1="117.40" y1="486.48" x2="120.00" y2="486.48" stroke="#111" stroke-width="1.0"/>
<rect x="115.33" y="488.79" width="6.75" height="44.81" fill="#000"/>
<line x1="125.45" y1="472.00" x2="125.45" y2="468.46" stroke="#111" stroke-width="0.9"/>
<line x1="124.15" y1="468.46" x2="126.75" y2="468.46" stroke="#111" stroke-width="1.0"/>
<rect x="122.38" y="472.30" width="6.15" height="61.30" fill="#8c8c8c" stroke="#2a2a2a" stroke-width="0.8"/>
<line x1="132.20" y1="477.24" x2="132.20" y2="475.47" stroke="#111" stroke-width="0.9"/>
<line x1="130.90" y1="475.47" x2="133.50" y2="475.47" stroke="#111" stroke-width="1.0"/>
<rect x="129.12" y="477.54" width="6.15" height="56.06" fill="#c6c6c6" stroke="#2a2a2a" stroke-width="0.8"/>
<line x1="148.00" y1="500.64" x2="148.00" y2="497.64" stroke="#111" stroke-width="0.9"/>
<line x1="146.70" y1="497.64" x2="149.30" y2="497.64" stroke="#111" stroke-width="1.0"/>
<rect x="144.62" y="500.64" width="6.75" height="32.96" fill="#000"/>
<line x1="154.75" y1="484.70" x2="154.75" y2="481.70" stroke="#111" stroke-width="0.9"/>
<line x1="153.45" y1="481.70" x2="156.05" y2="481.70" stroke="#111" stroke-width="1.0"/>
<rect x="151.68" y="485.00" width="6.15" height="48.60" fill="#8c8c8c" stroke="#2a2a2a" stroke-width="0.8"/>
<line x1="161.50" y1="485.24" x2="161.50" y2="484.01" stroke="#111" stroke-width="0.9"/>
<line x1="160.20" y1="484.01" x2="162.80" y2="484.01" stroke="#111" stroke-width="1.0"/>
<rect x="158.43" y="485.54" width="6.15" height="48.06" fill="#c6c6c6" stroke="#2a2a2a" stroke-width="0.8"/>
<line x1="81.50" y1="410.10" x2="81.50" y2="534.10" stroke="#222" stroke-width="1.2"/>
<line x1="81.00" y1="533.60" x2="169.80" y2="533.60" stroke="#222" stroke-width="1.1"/>
<line x1="78.70" y1="533.60" x2="81.50" y2="533.60" stroke="#111" stroke-width="1.0"/>
<text x="78.50" y="535.70" font-size="5.8" text-anchor="end" fill="#111">0</text>
<line x1="78.70" y1="518.20" x2="81.50" y2="518.20" stroke="#111" stroke-width="1.0"/>
<text x="78.50" y="520.30" font-size="5.8" text-anchor="end" fill="#111">20</text>
<line x1="78.70" y1="502.80" x2="81.50" y2="502.80" stroke="#111" stroke-width="1.0"/>
<text x="78.50" y="504.90" font-size="5.8" text-anchor="end" fill="#111">40</text>
<line x1="78.70" y1="487.40" x2="81.50" y2="487.40" stroke="#111" stroke-width="1.0"/>
<text x="78.50" y="489.50" font-size="5.8" text-anchor="end" fill="#111">60</text>
<line x1="78.70" y1="472.00" x2="81.50" y2="472.00" stroke="#111" stroke-width="1.0"/>
<text x="78.50" y="474.10" font-size="5.8" text-anchor="end" fill="#111">80</text>
<line x1="78.70" y1="456.60" x2="81.50" y2="456.60" stroke="#111" stroke-width="1.0"/>
<text x="78.50" y="458.70" font-size="5.8" text-anchor="end" fill="#111">100</text>
<line x1="78.70" y1="441.20" x2="81.50" y2="441.20" stroke="#111" stroke-width="1.0"/>
<text x="78.50" y="443.30" font-size="5.8" text-anchor="end" fill="#111">120</text>
<line x1="78.70" y1="425.80" x2="81.50" y2="425.80" stroke="#111" stroke-width="1.0"/>
<text x="78.50" y="427.90" font-size="5.8" text-anchor="end" fill="#111">140</text>
<line x1="78.70" y1="410.40" x2="81.50" y2="410.40" stroke="#111" stroke-width="1.0"/>
<text x="78.50" y="412.50" font-size="5.8" text-anchor="end" fill="#111">160</text>
<line x1="81.50" y1="533.60" x2="81.50" y2="535.90" stroke="#111" stroke-width="0.9"/>
<line x1="110.80" y1="533.60" x2="110.80" y2="535.90" stroke="#111" stroke-width="0.9"/>
<line x1="140.10" y1="533.60" x2="140.10" y2="535.90" stroke="#111" stroke-width="0.9"/>
<line x1="169.40" y1="533.60" x2="169.40" y2="535.90" stroke="#111" stroke-width="0.9"/>
<text x="96.45" y="541.50" font-size="5.9" text-anchor="middle" fill="#111">0</text>
<text x="125.75" y="541.50" font-size="5.9" text-anchor="middle" fill="#111">0.1</text>
<text x="155.05" y="541.50" font-size="5.9" text-anchor="middle" fill="#111">1</text>
<text x="125.45" y="550.30" font-size="7.5" text-anchor="middle" fill="#111">MEKi(µM)</text>
<text x="64.00" y="471.00" font-size="7.5" text-anchor="middle" fill="#111" transform="rotate(-90 64.00 471.00)">Cell Viability (%)</text>
<text x="80.40" y="398.20" font-size="7.3" text-anchor="start" fill="#111">CAL85-1</text>
<rect x="145.00" y="405.25" width="3.50" height="3.50" fill="#000"/>
<text x="150.10" y="409.10" font-size="5.95" text-anchor="start" fill="#111">Control siRNA</text>
<rect x="145.30" y="412.50" width="2.90" height="2.90" fill="#8c8c8c" stroke="#2a2a2a" stroke-width="0.8"/>
<text x="150.10" y="416.05" font-size="5.95" text-anchor="start" fill="#111">PTEN siRNA-1</text>
<rect x="145.30" y="419.45" width="2.90" height="2.90" fill="#c6c6c6" stroke="#2a2a2a" stroke-width="0.8"/>
<text x="150.10" y="423.00" font-size="5.95" text-anchor="start" fill="#111">PTEN siRNA-2</text>
<text x="125.40" y="468.66" font-size="7.8" text-anchor="middle" font-weight="bold" fill="#111">*</text>
<text x="132.30" y="472.66" font-size="7.8" text-anchor="middle" font-weight="bold" fill="#111">*</text>
<text x="154.80" y="476.96" font-size="7.8" text-anchor="middle" font-weight="bold" fill="#111">*</text>
<text x="161.60" y="480.66" font-size="7.8" text-anchor="middle" font-weight="bold" fill="#111">*</text>
<line x1="228.52" y1="444.84" x2="228.52" y2="442.64" stroke="#111" stroke-width="0.9"/>
<line x1="227.22" y1="442.64" x2="229.82" y2="442.64" stroke="#111" stroke-width="1.0"/>
<rect x="225.17" y="444.84" width="6.70" height="88.66" fill="#000"/>
<line x1="235.22" y1="439.38" x2="235.22" y2="438.58" stroke="#111" stroke-width="0.9"/>
<line x1="233.92" y1="438.58" x2="236.52" y2="438.58" stroke="#111" stroke-width="1.0"/>
<rect x="232.17" y="439.68" width="6.10" height="93.82" fill="#8c8c8c" stroke="#2a2a2a" stroke-width="0.8"/>
<line x1="241.92" y1="432.76" x2="241.92" y2="430.91" stroke="#111" stroke-width="0.9"/>
<line x1="240.62" y1="430.91" x2="243.22" y2="430.91" stroke="#111" stroke-width="1.0"/>
<rect x="238.87" y="433.06" width="6.10" height="100.44" fill="#c6c6c6" stroke="#2a2a2a" stroke-width="0.8"/>
<line x1="257.95" y1="477.22" x2="257.95" y2="474.57" stroke="#111" stroke-width="0.9"/>
<line x1="256.65" y1="474.57" x2="259.25" y2="474.57" stroke="#111" stroke-width="1.0"/>
<rect x="254.60" y="477.22" width="6.70" height="56.28" fill="#000"/>
<line x1="264.65" y1="452.08" x2="264.65" y2="445.37" stroke="#111" stroke-width="0.9"/>
<line x1="263.35" y1="445.37" x2="265.95" y2="445.37" stroke="#111" stroke-width="1.0"/>
<rect x="261.60" y="452.38" width="6.10" height="81.12" fill="#8c8c8c" stroke="#2a2a2a" stroke-width="0.8"/>
<line x1="271.35" y1="461.34" x2="271.35" y2="453.31" stroke="#111" stroke-width="0.9"/>
<line x1="270.05" y1="453.31" x2="272.65" y2="453.31" stroke="#111" stroke-width="1.0"/>
<rect x="268.30" y="461.64" width="6.10" height="71.86" fill="#c6c6c6" stroke="#2a2a2a" stroke-width="0.8"/>
<line x1="287.38" y1="510.83" x2="287.38" y2="508.18" stroke="#111" stroke-width="0.9"/>
<line x1="286.08" y1="508.18" x2="288.68" y2="508.18" stroke="#111" stroke-width="1.0"/>
<rect x="284.03" y="510.83" width="6.70" height="22.67" fill="#000"/>
<line x1="294.08" y1="490.01" x2="294.08" y2="486.48" stroke="#111" stroke-width="0.9"/>
<line x1="292.78" y1="486.48" x2="295.38" y2="486.48" stroke="#111" stroke-width="1.0"/>
<rect x="291.03" y="490.31" width="6.10" height="43.19" fill="#8c8c8c" stroke="#2a2a2a" stroke-width="0.8"/>
<line x1="300.78" y1="497.60" x2="300.78" y2="495.30" stroke="#111" stroke-width="0.9"/>
<line x1="299.48" y1="495.30" x2="302.08" y2="495.30" stroke="#111" stroke-width="1.0"/>
<rect x="297.73" y="497.90" width="6.10" height="35.60" fill="#c6c6c6" stroke="#2a2a2a" stroke-width="0.8"/>
<line x1="220.50" y1="409.70" x2="220.50" y2="534.00" stroke="#222" stroke-width="1.2"/>
<line x1="220.00" y1="533.50" x2="309.20" y2="533.50" stroke="#222" stroke-width="1.1"/>
<line x1="217.70" y1="533.50" x2="220.50" y2="533.50" stroke="#111" stroke-width="1.0"/>
<text x="217.50" y="535.60" font-size="5.8" text-anchor="end" fill="#111">0</text>
<line x1="217.70" y1="515.86" x2="220.50" y2="515.86" stroke="#111" stroke-width="1.0"/>
<text x="217.50" y="517.96" font-size="5.8" text-anchor="end" fill="#111">20</text>
<line x1="217.70" y1="498.21" x2="220.50" y2="498.21" stroke="#111" stroke-width="1.0"/>
<text x="217.50" y="500.31" font-size="5.8" text-anchor="end" fill="#111">40</text>
<line x1="217.70" y1="480.57" x2="220.50" y2="480.57" stroke="#111" stroke-width="1.0"/>
<text x="217.50" y="482.67" font-size="5.8" text-anchor="end" fill="#111">60</text>
<line x1="217.70" y1="462.93" x2="220.50" y2="462.93" stroke="#111" stroke-width="1.0"/>
<text x="217.50" y="465.03" font-size="5.8" text-anchor="end" fill="#111">80</text>
<line x1="217.70" y1="445.29" x2="220.50" y2="445.29" stroke="#111" stroke-width="1.0"/>
<text x="217.50" y="447.39" font-size="5.8" text-anchor="end" fill="#111">100</text>
<line x1="217.70" y1="427.64" x2="220.50" y2="427.64" stroke="#111" stroke-width="1.0"/>
<text x="217.50" y="429.74" font-size="5.8" text-anchor="end" fill="#111">120</text>
<line x1="217.70" y1="410.00" x2="220.50" y2="410.00" stroke="#111" stroke-width="1.0"/>
<text x="217.50" y="412.10" font-size="5.8" text-anchor="end" fill="#111">140</text>
<line x1="220.50" y1="533.50" x2="220.50" y2="535.80" stroke="#111" stroke-width="0.9"/>
<line x1="249.93" y1="533.50" x2="249.93" y2="535.80" stroke="#111" stroke-width="0.9"/>
<line x1="279.37" y1="533.50" x2="279.37" y2="535.80" stroke="#111" stroke-width="0.9"/>
<line x1="308.80" y1="533.50" x2="308.80" y2="535.80" stroke="#111" stroke-width="0.9"/>
<text x="235.52" y="541.40" font-size="5.9" text-anchor="middle" fill="#111">0</text>
<text x="264.95" y="541.40" font-size="5.9" text-anchor="middle" fill="#111">0.1</text>
<text x="294.38" y="541.40" font-size="5.9" text-anchor="middle" fill="#111">1</text>
<text x="264.65" y="550.20" font-size="7.5" text-anchor="middle" fill="#111">MEKi(µM)</text>
<text x="204.10" y="473.00" font-size="7.5" text-anchor="middle" fill="#111" transform="rotate(-90 204.10 473.00)">Cell Viability (%)</text>
<text x="221.60" y="398.30" font-size="7.3" text-anchor="start" fill="#111">MDA-MB-231</text>
<rect x="284.60" y="406.25" width="3.50" height="3.50" fill="#000"/>
<text x="289.70" y="410.10" font-size="5.95" text-anchor="start" fill="#111">Control siRNA</text>
<rect x="284.90" y="413.55" width="2.90" height="2.90" fill="#8c8c8c" stroke="#2a2a2a" stroke-width="0.8"/>
<text x="289.70" y="417.10" font-size="5.95" text-anchor="start" fill="#111">PTEN siRNA-1</text>
<rect x="284.90" y="420.55" width="2.90" height="2.90" fill="#c6c6c6" stroke="#2a2a2a" stroke-width="0.8"/>
<text x="289.70" y="424.10" font-size="5.95" text-anchor="start" fill="#111">PTEN siRNA-2</text>
<text x="242.90" y="428.96" font-size="7.8" text-anchor="middle" font-weight="bold" fill="#111">*</text>
<text x="265.00" y="442.56" font-size="7.8" text-anchor="middle" font-weight="bold" fill="#111">*</text>
<text x="271.90" y="450.96" font-size="7.8" text-anchor="middle" font-weight="bold" fill="#111">*</text>
<text x="296.00" y="484.96" font-size="7.8" text-anchor="middle" font-weight="bold" fill="#111">*</text>
<text x="301.30" y="491.06" font-size="7.8" text-anchor="middle" font-weight="bold" fill="#111">*</text>
<line x1="370.32" y1="428.80" x2="370.32" y2="414.48" stroke="#111" stroke-width="0.9"/>
<line x1="369.02" y1="414.48" x2="371.62" y2="414.48" stroke="#111" stroke-width="1.0"/>
<rect x="366.92" y="428.80" width="6.80" height="104.50" fill="#000"/>
<line x1="377.12" y1="447.71" x2="377.12" y2="442.38" stroke="#111" stroke-width="0.9"/>
<line x1="375.82" y1="442.38" x2="378.42" y2="442.38" stroke="#111" stroke-width="1.0"/>
<rect x="374.02" y="448.01" width="6.20" height="85.29" fill="#8c8c8c" stroke="#2a2a2a" stroke-width="0.8"/>
<line x1="383.92" y1="434.86" x2="383.92" y2="422.53" stroke="#111" stroke-width="0.9"/>
<line x1="382.62" y1="422.53" x2="385.22" y2="422.53" stroke="#111" stroke-width="1.0"/>
<rect x="380.82" y="435.16" width="6.20" height="98.14" fill="#c6c6c6" stroke="#2a2a2a" stroke-width="0.8"/>
<line x1="400.55" y1="435.38" x2="400.55" y2="417.72" stroke="#111" stroke-width="0.9"/>
<line x1="399.25" y1="417.72" x2="401.85" y2="417.72" stroke="#111" stroke-width="1.0"/>
<rect x="397.15" y="435.38" width="6.80" height="97.92" fill="#000"/>
<line x1="407.35" y1="452.52" x2="407.35" y2="440.71" stroke="#111" stroke-width="0.9"/>
<line x1="406.05" y1="440.71" x2="408.65" y2="440.71" stroke="#111" stroke-width="1.0"/>
<rect x="404.25" y="452.82" width="6.20" height="80.48" fill="#8c8c8c" stroke="#2a2a2a" stroke-width="0.8"/>
<line x1="414.15" y1="439.25" x2="414.15" y2="423.57" stroke="#111" stroke-width="0.9"/>
<line x1="412.85" y1="423.57" x2="415.45" y2="423.57" stroke="#111" stroke-width="1.0"/>
<rect x="411.05" y="439.55" width="6.20" height="93.75" fill="#c6c6c6" stroke="#2a2a2a" stroke-width="0.8"/>
<line x1="430.78" y1="438.41" x2="430.78" y2="427.44" stroke="#111" stroke-width="0.9"/>
<line x1="429.48" y1="427.44" x2="432.08" y2="427.44" stroke="#111" stroke-width="1.0"/>
<rect x="427.38" y="438.41" width="6.80" height="94.89" fill="#000"/>
<line x1="437.58" y1="448.13" x2="437.58" y2="436.95" stroke="#111" stroke-width="0.9"/>
<line x1="436.28" y1="436.95" x2="438.88" y2="436.95" stroke="#111" stroke-width="1.0"/>
<rect x="434.48" y="448.43" width="6.20" height="84.87" fill="#8c8c8c" stroke="#2a2a2a" stroke-width="0.8"/>
<line x1="444.38" y1="447.19" x2="444.38" y2="441.55" stroke="#111" stroke-width="0.9"/>
<line x1="443.08" y1="441.55" x2="445.68" y2="441.55" stroke="#111" stroke-width="1.0"/>
<rect x="441.28" y="447.49" width="6.20" height="85.81" fill="#c6c6c6" stroke="#2a2a2a" stroke-width="0.8"/>
<line x1="362.00" y1="407.60" x2="362.00" y2="533.80" stroke="#222" stroke-width="1.2"/>
<line x1="361.50" y1="533.30" x2="453.10" y2="533.30" stroke="#222" stroke-width="1.1"/>
<line x1="359.20" y1="533.30" x2="362.00" y2="533.30" stroke="#111" stroke-width="1.0"/>
<text x="359.00" y="535.40" font-size="5.8" text-anchor="end" fill="#111">0</text>
<line x1="359.20" y1="512.40" x2="362.00" y2="512.40" stroke="#111" stroke-width="1.0"/>
<text x="359.00" y="514.50" font-size="5.8" text-anchor="end" fill="#111">20</text>
<line x1="359.20" y1="491.50" x2="362.00" y2="491.50" stroke="#111" stroke-width="1.0"/>
<text x="359.00" y="493.60" font-size="5.8" text-anchor="end" fill="#111">40</text>
<line x1="359.20" y1="470.60" x2="362.00" y2="470.60" stroke="#111" stroke-width="1.0"/>
<text x="359.00" y="472.70" font-size="5.8" text-anchor="end" fill="#111">60</text>
<line x1="359.20" y1="449.70" x2="362.00" y2="449.70" stroke="#111" stroke-width="1.0"/>
<text x="359.00" y="451.80" font-size="5.8" text-anchor="end" fill="#111">80</text>
<line x1="359.20" y1="428.80" x2="362.00" y2="428.80" stroke="#111" stroke-width="1.0"/>
<text x="359.00" y="430.90" font-size="5.8" text-anchor="end" fill="#111">100</text>
<line x1="359.20" y1="407.90" x2="362.00" y2="407.90" stroke="#111" stroke-width="1.0"/>
<text x="359.00" y="410.00" font-size="5.8" text-anchor="end" fill="#111">120</text>
<line x1="362.00" y1="533.30" x2="362.00" y2="535.60" stroke="#111" stroke-width="0.9"/>
<line x1="392.23" y1="533.30" x2="392.23" y2="535.60" stroke="#111" stroke-width="0.9"/>
<line x1="422.47" y1="533.30" x2="422.47" y2="535.60" stroke="#111" stroke-width="0.9"/>
<line x1="452.70" y1="533.30" x2="452.70" y2="535.60" stroke="#111" stroke-width="0.9"/>
<text x="377.42" y="541.20" font-size="5.9" text-anchor="middle" fill="#111">0</text>
<text x="407.65" y="541.20" font-size="5.9" text-anchor="middle" fill="#111">0.1</text>
<text x="437.88" y="541.20" font-size="5.9" text-anchor="middle" fill="#111">1</text>
<text x="407.35" y="550.00" font-size="7.5" text-anchor="middle" fill="#111">MEKi(µM)</text>
<text x="344.60" y="471.40" font-size="7.5" text-anchor="middle" fill="#111" transform="rotate(-90 344.60 471.40)">Cell Viability (%)</text>
<text x="362.40" y="398.40" font-size="7.3" text-anchor="start" fill="#111">MDA-MB-436</text>
<rect x="427.70" y="401.70" width="3.60" height="3.60" fill="#000"/>
<text x="432.90" y="405.60" font-size="5.95" text-anchor="start" fill="#111">Control siRNA</text>
<rect x="428.00" y="409.10" width="3.00" height="3.00" fill="#8c8c8c" stroke="#2a2a2a" stroke-width="0.8"/>
<text x="432.90" y="412.70" font-size="5.95" text-anchor="start" fill="#111">PTEN siRNA-1</text>
<rect x="428.00" y="416.20" width="3.00" height="3.00" fill="#c6c6c6" stroke="#2a2a2a" stroke-width="0.8"/>
<text x="432.90" y="419.80" font-size="5.95" text-anchor="start" fill="#111">PTEN siRNA-2</text>
</svg>
</body>
</html>
